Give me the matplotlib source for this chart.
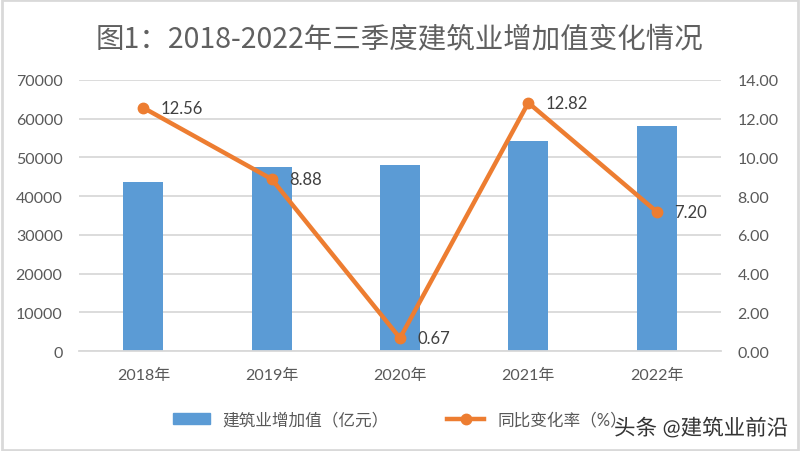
import matplotlib.pyplot as plt
import matplotlib.patheffects as pe
from matplotlib.patches import Rectangle
from matplotlib.lines import Line2D

plt.rcParams['font.family'] = ['Lato', 'Noto Sans CJK SC']

# Data
years = ["2018年", "2019年", "2020年", "2021年", "2022年"]
added_value = [43650, 47550, 48050, 54250, 58150]
growth_rate = [12.56, 8.88, 0.67, 12.82, 7.20]
left_ticks = [0, 10000, 20000, 30000, 40000, 50000, 60000, 70000]
right_ticks = [0, 2, 4, 6, 8, 10, 12, 14]

BAR_COLOR = "#5B9BD5"
LINE_COLOR = "#ED7D31"
TICK_COLOR = "#595959"
GRID_COLOR = "#D9D9D9"

fig = plt.figure(figsize=(8, 4.52), dpi=100)
ax = fig.add_axes([0.099, 0.221, 0.802, 0.600])
ax2 = ax.twinx()

x = list(range(len(years)))
ax.bar(x, added_value, width=0.31, color=BAR_COLOR, zorder=2)
ax.set_ylim(0, 70000)
ax.set_yticks(left_ticks)
ax.set_yticklabels([str(t) for t in left_ticks])
ax.set_xlim(-0.5, len(years) - 0.5)
ax.set_xticks(x)
ax.set_xticklabels(years)
ax.yaxis.grid(True, color=GRID_COLOR, linewidth=1.3, zorder=0)
ax.set_axisbelow(True)

ax2.plot(x, growth_rate, color=LINE_COLOR, linewidth=3.2, marker="o",
         markersize=7.5, zorder=3)
ax2.set_ylim(0, 14)
ax2.set_yticks(right_ticks)
ax2.set_yticklabels([f"{t:.2f}" for t in right_ticks])
for xi, v in zip(x, growth_rate):
    ax2.annotate(f"{v:.2f}", (xi, v), xytext=(12.5, 0), textcoords="offset points",
                 va="center", ha="left", fontsize=12, color="#404040")

for a in (ax, ax2):
    for s in a.spines.values():
        s.set_visible(False)
    a.tick_params(length=0, labelsize=11.5, colors=TICK_COLOR)
ax.spines["bottom"].set_visible(True)
ax.spines["bottom"].set_color(GRID_COLOR)
ax.spines["bottom"].set_linewidth(1.3)
ax.tick_params(axis="x", pad=12)
ax.tick_params(axis="y", pad=12)
ax2.tick_params(axis="y", pad=12)

fig.text(0.5, 0.913, "图1：2018-2022年三季度建筑业增加值变化情况",
         ha="center", va="center", fontsize=20.5, color="#606060",
         family=["Noto Sans CJK SC"])

handles = [
    Rectangle((0, 0), 1, 1, color=BAR_COLOR),
    Line2D([0], [0], color=LINE_COLOR, linewidth=3.2, marker="o", markersize=7.5),
]
fig.legend(handles, ["建筑业增加值（亿元）", "同比变化率（%）"],
           loc="center", bbox_to_anchor=(0.5, 0.07), ncol=2, frameon=False,
           fontsize=12, labelcolor=TICK_COLOR, handlelength=2.2,
           columnspacing=3.5)

fig.text(0.985, 0.05, "头条 @建筑业前沿", ha="right", va="center",
         fontsize=15.5, color="#333333",
         path_effects=[pe.withStroke(linewidth=2.5, foreground="white")])

fig.add_artist(Rectangle((0.002, 0.003), 0.996, 0.994, transform=fig.transFigure,
                         fill=False, edgecolor="#D9D9D9", linewidth=2))

fig.savefig("out.png", dpi=100)
